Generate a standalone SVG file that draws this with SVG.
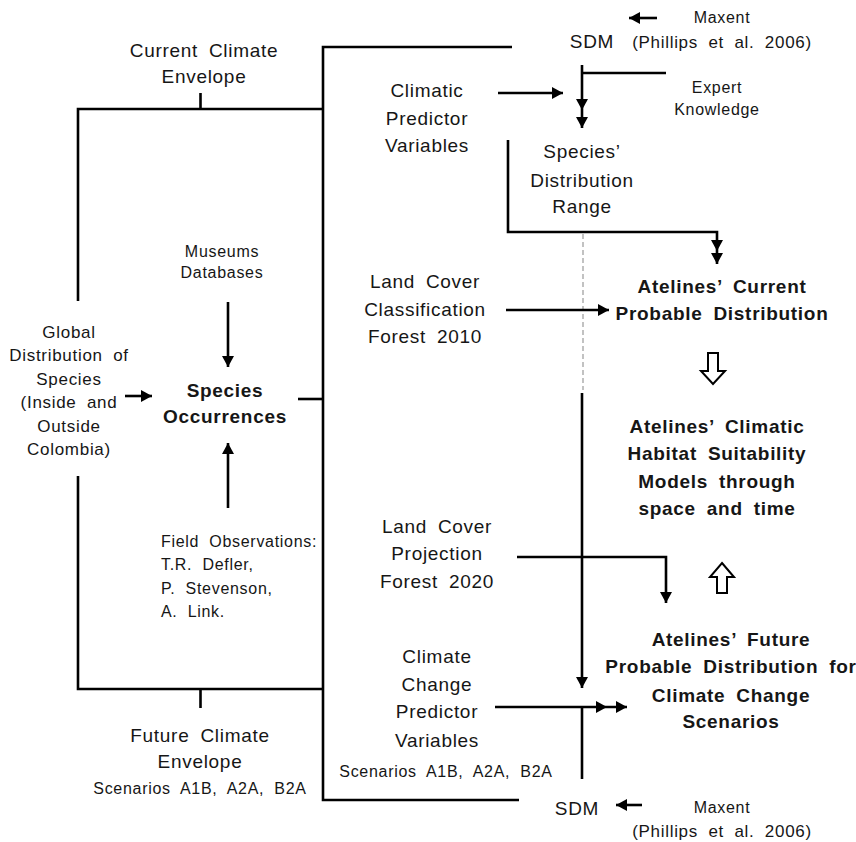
<svg xmlns="http://www.w3.org/2000/svg" xmlns:xlink="http://www.w3.org/1999/xlink" width="856" height="842" viewBox="0 0 856 842">
<style>
text{font-family:"Liberation Sans",Arial,sans-serif;fill:#161616;text-anchor:middle;letter-spacing:0.7px;word-spacing:5px}
.m{font-size:19px}
.s{font-size:16px}
.g{font-size:17px}
.b{font-size:19px;font-weight:bold}
.l{text-anchor:start}
.ln{fill:none;stroke:#000;stroke-width:2.6}
.dash{fill:none;stroke:#9a9a9a;stroke-width:1.2;stroke-dasharray:5 3}
.hol{fill:#fff;stroke:#000;stroke-width:2;stroke-linejoin:miter}
</style>
<defs>
<marker id="ah" markerUnits="userSpaceOnUse" markerWidth="12" markerHeight="12" viewBox="-11 -6 12 12" refX="0" refY="0" orient="auto">
<path d="M0,0 L-11,-6 L-11,6 Z" fill="#000"/>
</marker>
<path id="head" d="M0,0 L-11,-6 L-11,6 Z" fill="#000"/>
</defs>

<g id="connectors">
<path class="ln" d="M200.5,93 V109"/>
<path class="ln" d="M78,301 V109 H323"/>
<path class="ln" d="M78,476 V689 H323"/>
<path class="ln" d="M200.5,689 V708"/>
<path class="ln" d="M512,47 H323 V800 H519"/>
<path class="ln" d="M298,399 H323"/>
<path class="ln" d="M228,302 V367" marker-end="url(#ah)"/>
<path class="ln" d="M228,508 V443" marker-end="url(#ah)"/>
<path class="ln" d="M125,396 H152" marker-end="url(#ah)"/>
<path class="ln" d="M657,18 H629" marker-end="url(#ah)"/>
<path class="ln" d="M666,73 H582"/>
<path class="ln" d="M582,65 V128" marker-end="url(#ah)"/>
<use xlink:href="#head" transform="translate(582,110) rotate(90)"/>
<path class="ln" d="M498,93 H563" marker-end="url(#ah)"/>
<path class="ln" d="M508,140 V232 H717 V264" marker-end="url(#ah)"/>
<use xlink:href="#head" transform="translate(717,251) rotate(90)"/>
<path class="dash" d="M583,234 V390"/>
<path class="ln" d="M506,310 H609" marker-end="url(#ah)"/>
<path class="ln" d="M582,393 V688" marker-end="url(#ah)"/>
<path class="ln" d="M517,557 H666 V603" marker-end="url(#ah)"/>
<path class="ln" d="M495,707 H627" marker-end="url(#ah)"/>
<use xlink:href="#head" transform="translate(607,707)"/>
<path class="ln" d="M582,779 V707"/>
<path class="ln" d="M642,805 H616" marker-end="url(#ah)"/>
<polygon class="hol" points="708,353 718,353 718,371 725,371 713,384 701,371 708,371"/>
<polygon class="hol" points="722,563 734,577 727,577 727,593 717,593 717,577 710,577"/>
</g>

<g id="current-climate-envelope"><text class="m" x="204" y="57">Current Climate</text><text class="m" x="204" y="83">Envelope</text></g>
<g id="sdm-top"><text class="m" x="592" y="48">SDM</text></g>
<g id="maxent-top"><text class="s" x="722" y="23">Maxent</text><text class="g" x="722" y="48">(Phillips et al. 2006)</text></g>
<g id="expert-knowledge"><text class="s" x="717" y="93">Expert</text><text class="s" x="717" y="115">Knowledge</text></g>
<g id="climatic-predictor"><text class="m" x="427" y="97">Climatic</text><text class="m" x="427" y="125">Predictor</text><text class="m" x="427" y="152">Variables</text></g>
<g id="species-range"><text class="m" x="582" y="158">Species’</text><text class="m" x="582" y="187">Distribution</text><text class="m" x="582" y="213">Range</text></g>
<g id="museums"><text class="s" x="222" y="257">Museums</text><text class="s" x="222" y="278">Databases</text></g>
<g id="global-distribution"><text class="g" x="69" y="338">Global</text><text class="g" x="69" y="361">Distribution of</text><text class="g" x="69" y="385">Species</text><text class="g" x="69" y="408">(Inside and</text><text class="g" x="69" y="432">Outside</text><text class="g" x="69" y="455">Colombia)</text></g>
<g id="species-occurrences"><text class="b" x="225" y="397">Species</text><text class="b" x="225" y="423">Occurrences</text></g>
<g id="field-observations"><text class="s l" x="161" y="547">Field Observations:</text><text class="s l" x="161" y="570">T.R. Defler,</text><text class="s l" x="161" y="594">P. Stevenson,</text><text class="s l" x="161" y="617">A. Link.</text></g>
<g id="land-cover-2010"><text class="m" x="425" y="288">Land Cover</text><text class="m" x="425" y="316">Classification</text><text class="m" x="425" y="343">Forest 2010</text></g>
<g id="current-probable"><text class="b" x="722" y="293">Atelines’ Current</text><text class="b" x="722" y="320">Probable Distribution</text></g>
<g id="habitat-suitability"><text class="b" x="717" y="433">Atelines’ Climatic</text><text class="b" x="717" y="460">Habitat Suitability</text><text class="b" x="717" y="488">Models through</text><text class="b" x="717" y="515">space and time</text></g>
<g id="land-cover-2020"><text class="m" x="437" y="533">Land Cover</text><text class="m" x="437" y="560">Projection</text><text class="m" x="437" y="588">Forest 2020</text></g>
<g id="future-probable"><text class="b" x="731" y="646">Atelines’ Future</text><text class="b" x="731" y="673">Probable Distribution for</text><text class="b" x="731" y="702">Climate Change</text><text class="b" x="731" y="728">Scenarios</text></g>
<g id="climate-change-predictor"><text class="m" x="437" y="663">Climate</text><text class="m" x="437" y="691">Change</text><text class="m" x="437" y="718">Predictor</text><text class="m" x="437" y="747">Variables</text><text class="s" x="446" y="777">Scenarios A1B, A2A, B2A</text></g>
<g id="future-climate-envelope"><text class="m" x="200" y="742">Future Climate</text><text class="m" x="200" y="768">Envelope</text><text class="s" x="200" y="794">Scenarios A1B, A2A, B2A</text></g>
<g id="sdm-bottom"><text class="m" x="577" y="815">SDM</text></g>
<g id="maxent-bottom"><text class="s" x="722" y="813">Maxent</text><text class="g" x="722" y="837">(Phillips et al. 2006)</text></g>
</svg>
